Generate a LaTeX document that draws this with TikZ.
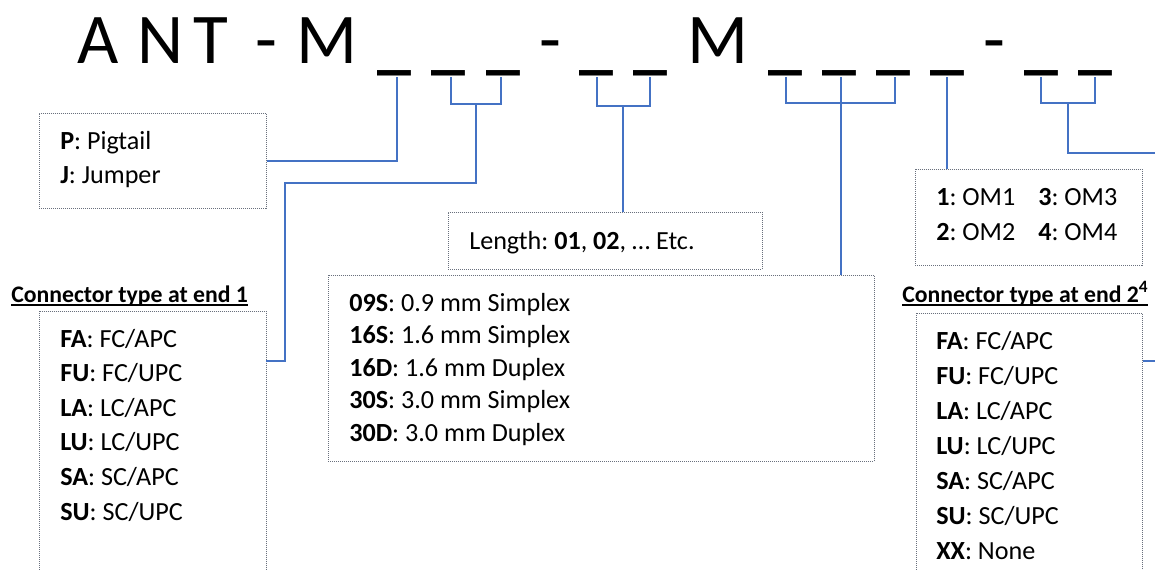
\documentclass[tikz,border=0pt]{standalone}
\usepackage{fontspec}
\setmainfont{Carlito}
\frenchspacing
\definecolor{lnblue}{RGB}{68,114,196}
\definecolor{boxgray}{RGB}{105,112,125}
\begin{document}
\begin{tikzpicture}[x=0.75pt,y=-0.75pt,
  conn/.style={draw=lnblue, line width=1pt},
  boxd/.style={draw=boxgray, line width=0.7pt, dash pattern=on 0.75pt off 0.75pt, inner sep=0pt, anchor=north west},
  ttl/.style={font=\fontsize{53.5pt}{60pt}\selectfont, anchor=base, inner sep=0pt},
  bar/.style={font=\bfseries\fontsize{51pt}{60pt}\selectfont, anchor=base, inner sep=0pt},
  item/.style={font=\fontsize{19.6pt}{24pt}\selectfont, anchor=base west, inner sep=0pt},
  head/.style={font=\bfseries\fontsize{17.8pt}{22pt}\selectfont, anchor=base west, inner sep=0pt},
  uline/.style={line width=1.3pt}]
\useasboundingbox (0,0) rectangle (1155,569);
\clip (0,0) rectangle (1155,569);

% ---- title ----
\node[ttl] (cA) at (98.5,63) {A};
\node[ttl] (cN) at (160.5,63) {N};
\node[ttl] (cT) at (210.5,63) {T};
\node[ttl] (d1) at (266.5,63) {-};
\node[ttl] (cM1) at (326.5,63) {M};
\node[bar] (u1) at (394.5,66.2) {\_};
\node[bar] (u2) at (448.5,66.2) {\_};
\node[bar] (u3) at (503,66.2) {\_};
\node[ttl] (d2) at (550.5,63) {-};
\node[bar] (u4) at (596.5,66.2) {\_};
\node[bar] (u5) at (650.5,66.2) {\_};
\node[ttl] (cM2) at (717.5,63) {M};
\node[bar] (u6) at (785.5,66.2) {\_};
\node[bar] (u7) at (839.5,66.2) {\_};
\node[bar] (u8) at (893.5,66.2) {\_};
\node[bar] (u9) at (947.5,66.2) {\_};
\node[ttl] (d3) at (994.5,63) {-};
\node[bar] (u10) at (1041.5,66.2) {\_};
\node[bar] (u11) at (1095.5,66.2) {\_};

% stem start points under the bars
\coordinate (t1) at (397,77);
\coordinate (t2) at (451,77);
\coordinate (t3) at (501,77);
\coordinate (t4) at (597,77);
\coordinate (t5) at (650,77);
\coordinate (t6) at (786,77);
\coordinate (t7) at (841,77);
\coordinate (t8) at (895,77);
\coordinate (t9) at (947,77);
\coordinate (t10) at (1041,77);
\coordinate (t11) at (1095,77);
\coordinate (k1) at (476,104);
\coordinate (k2) at (623,106);
\coordinate (k3) at (841,103);
\coordinate (k4) at (1068,103);
\coordinate (j1) at (285,183);
\coordinate (e1in) at (266,361);
\coordinate (r1) at (1155,153);
\coordinate (r2) at (1155,361);

% ---- boxes ----
\node[boxd, minimum width=170.25pt, minimum height=71.25pt] (pj) at (39,113) {};
\node[boxd, minimum width=235.5pt, minimum height=42.75pt] (len) at (448,212) {};
\node[boxd, minimum width=409.5pt, minimum height=139.5pt] (dur) at (328,275) {};
\node[boxd, minimum width=170.25pt, minimum height=72pt] (om) at (915,169) {};
\node[boxd, minimum width=170.25pt, minimum height=202.5pt] (e1) at (39,311) {};
\node[boxd, minimum width=169.5pt, minimum height=202.5pt] (e2) at (916,313) {};

% ---- texts ----
\node[item] (p1) at (60,149) {\textbf{P}: Pigtail};
\node[item] (p2) at (60,183.3) {\textbf{J}: Jumper};

\node[item] (l1) at (469,249) {Length: \textbf{01}, \textbf{02}, … Etc.};

\node[item] (s1) at (349,311) {\textbf{09S}: 0.9 mm Simplex};
\node[item] (s2) at (349,343.5) {\textbf{16S}: 1.6 mm Simplex};
\node[item] (s3) at (349,376) {\textbf{16D}: 1.6 mm Duplex};
\node[item] (s4) at (349,408.5) {\textbf{30S}: 3.0 mm Simplex};
\node[item] (s5) at (349,441) {\textbf{30D}: 3.0 mm Duplex};

\node[item] (o1) at (936,205) {\textbf{1}: OM1};
\node[item] (o3) at (1038,205) {\textbf{3}: OM3};
\node[item] (o2) at (936,240) {\textbf{2}: OM2};
\node[item] (o4) at (1038,240) {\textbf{4}: OM4};

\node[head] (h1) at (11,302) {Connector type at end 1};
\node[head] (h2) at (902,302) {Connector type at end 2\raisebox{0.42em}{\fontsize{13pt}{13pt}\selectfont 4}};
\draw[uline] ([yshift=-2.2pt]h1.base west) -- ([yshift=-2.2pt]h1.base east);
\draw[uline] ([yshift=-2.2pt]h2.base west) -- ([yshift=-2.2pt]h2.base east);

\node[item] (a1) at (60,347) {\textbf{FA}: FC/APC};
\node[item] (a2) at (60,381.6) {\textbf{FU}: FC/UPC};
\node[item] (a3) at (60,416.2) {\textbf{LA}: LC/APC};
\node[item] (a4) at (60,450.8) {\textbf{LU}: LC/UPC};
\node[item] (a5) at (60,485.4) {\textbf{SA}: SC/APC};
\node[item] (a6) at (60,520) {\textbf{SU}: SC/UPC};

\node[item] (b1) at (936,349) {\textbf{FA}: FC/APC};
\node[item] (b2) at (936,384) {\textbf{FU}: FC/UPC};
\node[item] (b3) at (936,419) {\textbf{LA}: LC/APC};
\node[item] (b4) at (936,454) {\textbf{LU}: LC/UPC};
\node[item] (b5) at (936,489) {\textbf{SA}: SC/APC};
\node[item] (b6) at (936,524) {\textbf{SU}: SC/UPC};
\node[item] (b7) at (936,559) {\textbf{XX}: None};

% ---- connectors ----
\draw[conn] (t1) |- (pj.east);
\draw[conn] (t2) |- (k1) -| (t3);
\draw[conn] (k1) |- (j1) |- (e1in);
\draw[conn] (t4) |- (k2) -| (t5);
\draw[conn] (k2) -- (k2 |- len.north);
\draw[conn] (t6) |- (k3) -| (t8);
\draw[conn] (t7) -- (t7 |- dur.north);
\draw[conn] (t9) -- (t9 |- om.north);
\draw[conn] (t10) |- (k4) -| (t11);
\draw[conn] (k4) |- (r1);
\draw[conn] (e2.east |- r2) -- (r2);
\end{tikzpicture}
\end{document}
